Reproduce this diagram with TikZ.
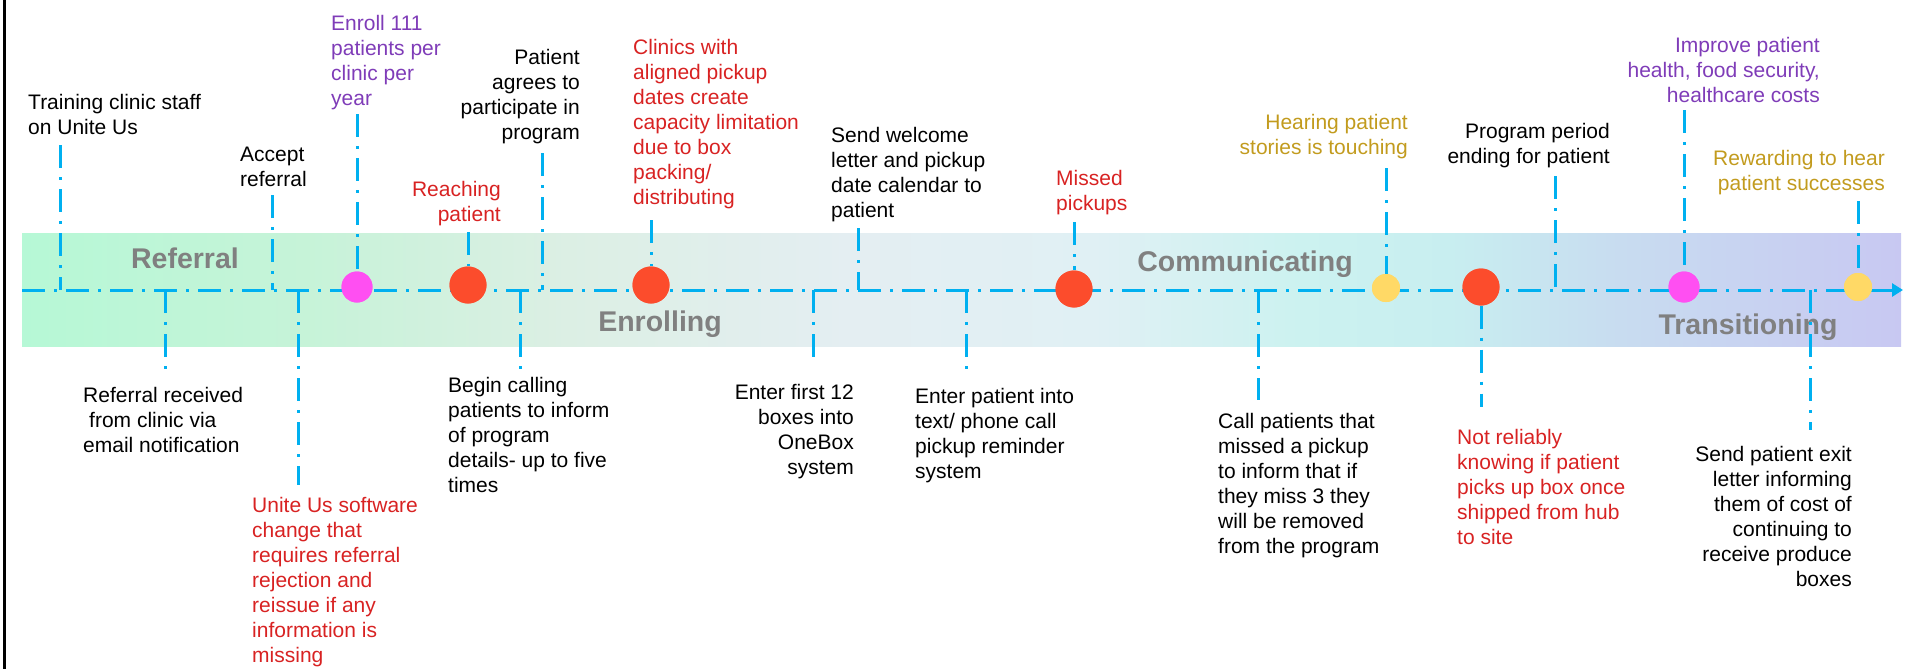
\documentclass[tikz,border=0pt]{standalone}
\usepackage{fontspec}
\setmainfont{Liberation Sans}
\usetikzlibrary{arrows.meta}
\definecolor{lineblue}{HTML}{00B0F0}
\definecolor{redtxt}{HTML}{D82222}
\definecolor{purtxt}{HTML}{7F3CB8}
\definecolor{goldtxt}{HTML}{C29B1E}
\definecolor{phasegray}{HTML}{808080}
\definecolor{reddot}{HTML}{FC4C2C}
\definecolor{pinkdot}{HTML}{FF4FF2}
\definecolor{yeldot}{HTML}{FFD966}
\definecolor{b0}{HTML}{B6F8D6}
\definecolor{b1}{HTML}{C6F3D8}
\definecolor{b2}{HTML}{DCEFE4}
\definecolor{b3}{HTML}{E4EEF2}
\definecolor{b4}{HTML}{E0F0F4}
\definecolor{b5}{HTML}{CCF2F0}
\definecolor{b6}{HTML}{C8EEF0}
\definecolor{b7}{HTML}{C8DCF0}
\definecolor{b8}{HTML}{C8C8F2}
\pgfdeclarehorizontalshading{bandshade}{100bp}{color(0bp)=(b0); color(25bp)=(b0); color(32.5bp)=(b1); color(39.5bp)=(b2); color(47bp)=(b3); color(53.5bp)=(b4); color(59bp)=(b5); color(63bp)=(b6); color(67.5bp)=(b7); color(75bp)=(b8); color(100bp)=(b8)}
\tikzset{
  ddline/.style={draw=lineblue, line width=3pt, dash pattern=on 23pt off 9pt on 3pt off 9pt},
  lbl/.style={inner sep=0pt, font=\fontsize{21}{25}\selectfont, text=black},
  lblL/.style={lbl, align=left, anchor=north west},
  lblR/.style={lbl, align=right, anchor=north east},
  phase/.style={inner sep=0pt, font=\fontsize{28.5}{32}\selectfont\bfseries, text=phasegray, anchor=base},
  rdot/.style={circle, fill=reddot, inner sep=0pt, minimum size=37pt},
  pdot/.style={circle, fill=pinkdot, inner sep=0pt, minimum size=31pt},
  ydot/.style={circle, fill=yeldot, inner sep=0pt, minimum size=28pt}
}
\begin{document}
\begin{tikzpicture}[x=1pt,y=-1pt]
\useasboundingbox (0,0) rectangle (1913,669);
% left border
\coordinate (bt) at (4,0);
\coordinate (bb) at (4,669);
\draw[line width=3pt, black] (bt) -- (bb);
% band
\shade[shading=bandshade] (22,233) rectangle (1901,346);
% phase labels
\node[phase] (pRef) at (185,268) {Referral};
\node[phase] (pEnr) at (660,331) {Enrolling};
\node[phase] (pCom) at (1245,271) {Communicating};
\node[phase] (pTra) at (1748,334) {Transitioning};
% axis
\coordinate (axL) at (22,290);
\coordinate (axR) at (1903,290);
\draw[ddline, -{Triangle[length=11pt,width=13pt]}] (axL) -- (axR);
% dots
\node[pdot] (d1) at (357,287) {};
\node[rdot] (d2) at (468,285) {};
\node[rdot] (d3) at (651,285) {};
\node[rdot] (d4) at (1074,289) {};
\node[ydot] (d5) at (1386,288) {};
\node[rdot] (d6) at (1481,287) {};
\node[pdot] (d7) at (1684,287) {};
\node[ydot] (d8) at (1858,287) {};
% tick tops (above)
\coordinate (k1) at (60,145);
\coordinate (k2) at (272,195);
\coordinate (k3) at (357,114);
\coordinate (k4) at (468,232);
\coordinate (k5) at (542,153);
\coordinate (k6) at (651,220);
\coordinate (k7) at (858,228);
\coordinate (k8) at (1074,222);
\coordinate (k9) at (1386,168);
\coordinate (k10) at (1555,176);
\coordinate (k11) at (1684,110);
\coordinate (k12) at (1858,201);
% tick bottoms (below)
\coordinate (q1) at (165,370);
\coordinate (q2) at (298,485);
\coordinate (q3) at (520,370);
\coordinate (q4) at (813,362);
\coordinate (q5) at (966,370);
\coordinate (q6) at (1258,400);
\coordinate (q7) at (1481,407);
\coordinate (q8) at (1810,430);
% ticks above
\draw[ddline] (k1) -- (k1 |- axL);
\draw[ddline] (k2) -- (k2 |- axL);
\draw[ddline] (k3) -- (d1.north);
\draw[ddline] (k4) -- (d2.north);
\draw[ddline] (k5) -- (k5 |- axL);
\draw[ddline] (k6) -- (d3.north);
\draw[ddline] (k7) -- (k7 |- axL);
\draw[ddline] (k8) -- (d4.north);
\draw[ddline] (k9) -- (d5.north);
\draw[ddline] (k10) -- (k10 |- axL);
\draw[ddline] (k11) -- (d7.north);
\draw[ddline] (k12) -- (d8.north);
% ticks below
\draw[ddline] (q1 |- axL) -- (q1);
\draw[ddline] (q2 |- axL) -- (q2);
\draw[ddline] (q3 |- axL) -- (q3);
\draw[ddline] (q4 |- axL) -- (q4);
\draw[ddline] (q5 |- axL) -- (q5);
\draw[ddline] (q6 |- axL) -- (q6);
\draw[ddline] (d6.south) -- (q7);
\draw[ddline] (q8 |- axL) -- (q8);
% redraw dots on top
\node[pdot] at (d1) {};
\node[rdot] at (d2) {};
\node[rdot] at (d3) {};
\node[rdot] at (d4) {};
\node[ydot] at (d5) {};
\node[rdot] at (d6) {};
\node[pdot] at (d7) {};
\node[ydot] at (d8) {};
% texts above
\node[lblL] (t1) at (28,94) {Training clinic staff\\on Unite Us};
\node[lblL] (t2) at (240,147) {Accept\\referral};
\node[lblL, text=purtxt] (t3) at (331,15) {Enroll 111\\patients per\\clinic per\\year};
\node[lblR, text=redtxt] (t4) at (501,181) {Reaching\\patient};
\node[lblR] (t5) at (580,49) {Patient\\agrees to\\participate in\\program};
\node[lblL, text=redtxt] (t6) at (633,39) {Clinics with\\aligned pickup\\dates create\\capacity limitation\\due to box\\packing/\\distributing};
\node[lblL] (t7) at (831,127) {Send welcome\\letter and pickup\\date calendar to\\patient};
\node[lblL, text=redtxt] (t8) at (1056,170) {Missed\\pickups};
\node[lblR, text=goldtxt] (t9) at (1408,114) {Hearing patient\\stories is touching};
\node[lblR] (t10) at (1610,123) {Program period\\ending for patient};
\node[lblR, text=purtxt] (t11) at (1820,37) {Improve patient\\health, food security,\\healthcare costs};
\node[lblR, text=goldtxt] (t12) at (1885,150) {Rewarding to hear\\patient successes};
% texts below
\node[lblL] (u1) at (83,387) {Referral received\\\hspace*{6pt}from clinic via\\email notification};
\node[lblL, text=redtxt] (u2) at (252,497) {Unite Us software\\change that\\requires referral\\rejection and\\reissue if any\\information is\\missing};
\node[lblL] (u3) at (448,377) {Begin calling\\patients to inform\\of program\\details- up to five\\times};
\node[lblR] (u4) at (854,384) {Enter first 12\\boxes into\\OneBox\\system};
\node[lblL] (u5) at (915,388) {Enter patient into\\text/ phone call\\pickup reminder\\system};
\node[lblL] (u6) at (1218,413) {Call patients that\\missed a pickup\\to inform that if\\they miss 3 they\\will be removed\\from the program};
\node[lblL, text=redtxt] (u7) at (1457,429) {Not reliably\\knowing if patient\\picks up box once\\shipped from hub\\to site};
\node[lblR] (u8) at (1852,446) {Send patient exit\\letter informing\\them of cost of\\continuing to\\receive produce\\boxes};
\end{tikzpicture}
\end{document}
